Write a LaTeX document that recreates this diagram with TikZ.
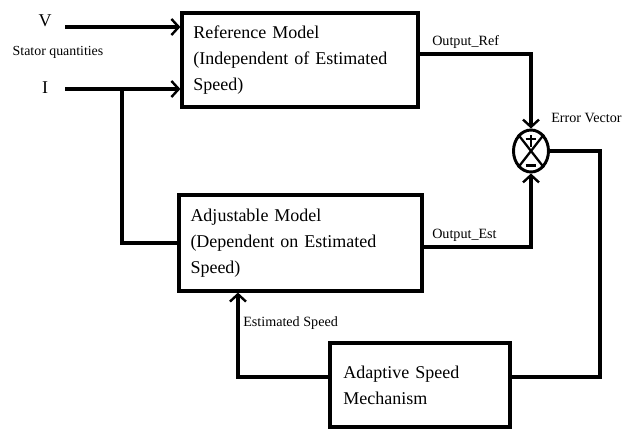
\documentclass[tikz,border=0pt]{standalone}
\usepackage{fontspec}
\setmainfont{Liberation Serif}
\usetikzlibrary{arrows.meta,shapes.geometric}
\begin{document}
\begin{tikzpicture}[x=0.75pt,y=-0.75pt,
  blk/.style={draw,line width=2.4pt,rectangle,align=left,font=\fontsize{13.5pt}{19.5pt}\selectfont},
  conn/.style={line width=2.3pt},
  arr/.style={conn,-{Straight Barb[length=5.5pt,width=12pt,line width=1.8pt]}},
  lbl/.style={inner sep=0pt,anchor=west,font=\fontsize{10.6pt}{12pt}\selectfont},
  inlbl/.style={inner sep=0pt,font=\fontsize{13.5pt}{16pt}\selectfont}]
\useasboundingbox (0,0) rectangle (640,429);
\node[blk,minimum width=177pt,minimum height=70.5pt,text width=160pt,inner xsep=8.25pt] (ref) at (300,60)
  {Reference Model\\(Independent of Estimated\\Speed)};
\node[blk,minimum width=182.25pt,minimum height=72pt,text width=165pt,inner xsep=8.25pt] (adj) at (300.5,243)
  {Adjustable Model\\(Dependent on Estimated\\Speed)};
\node[blk,minimum width=135pt,minimum height=63pt,text width=115pt,inner xsep=10pt] (asm) at (420,385)
  {Adaptive Speed\\Mechanism};
\node[draw,ellipse,line width=2.2pt,minimum width=26.25pt,minimum height=31.5pt,inner sep=0pt] (sum) at (531,151) {};
\draw[line width=1.7pt] (sum.128) -- (sum.-52) (sum.52) -- (sum.-128);
\draw[line width=1.9pt] ([yshift=12pt]sum.center) -- ([yshift=3pt]sum.center)
  ([xshift=-4pt,yshift=9pt]sum.center) -- ([xshift=4pt,yshift=9pt]sum.center);
\draw[line width=1.9pt] ([xshift=-4pt,yshift=-11pt]sum.center) -- ([xshift=4pt,yshift=-11pt]sum.center);
\node[inlbl] (vlab) at (45,21) {V};
\node[inlbl] (ilab) at (45,88) {I};
\node[inner sep=0pt,font=\fontsize{10.4pt}{12pt}\selectfont] (stator) at (58,52) {Stator quantities};
\coordinate (vin) at (65,27);
\coordinate (iin) at (65,89);
\coordinate (br) at (122,89);
\draw[arr] (vin) -- (vin -| ref.west);
\draw[arr] (iin) -- (iin -| ref.west);
\draw[conn] (br) |- (adj.west);
\draw[arr] ([yshift=4.5pt]ref.east) -| (sum.north);
\draw[arr] ([yshift=-3pt]adj.east) -| (sum.south);
\coordinate (ec) at (600,151);
\draw[conn] (sum.east) -- (ec) |- ([yshift=6pt]asm.east);
\draw[arr] ([yshift=6pt]asm.west) -| ([xshift=-46.9pt]adj.south);
\node[lbl] (oref) at (432,42) {Output\_Ref};
\node[lbl] (oest) at (432,235) {Output\_Est};
\node[lbl] (err) at (551,118) {Error Vector};
\node[lbl] (espd) at (243,323) {Estimated Speed};
\end{tikzpicture}
\end{document}
